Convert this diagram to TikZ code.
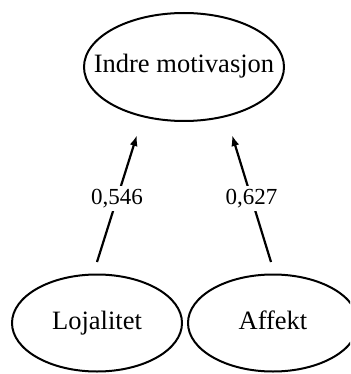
\documentclass[tikz,border=0pt]{standalone}
\usepackage{fontspec}
\setmainfont{Liberation Serif}
\usetikzlibrary{arrows.meta,shapes.geometric}
\begin{document}
\begin{tikzpicture}[x=1pt,y=-1pt,
  factor/.style={draw,line width=2pt,ellipse,minimum width=#1,inner sep=0pt},
  caption/.style={text height=18pt,text depth=6pt,inner sep=0pt,font=\fontsize{26.5}{28}\selectfont},
  link/.style={line width=2.2pt,-{Latex[length=11pt,width=8pt]}},
  coef/.style={fill=white,inner sep=3pt,font=\fontsize{23}{25}\selectfont}]
\useasboundingbox (0,0) rectangle (350,374);
\clip (0,0) rectangle (350,374);
\node[factor=200pt,minimum height=108pt,label={[caption]center:Indre motivasjon}] (indre) at (184,67) {};
\node[factor=170pt,minimum height=97pt,label={[caption]center:Lojalitet}] (loj) at (97,323) {};
\node[factor=170pt,minimum height=97pt,label={[caption]center:Affekt}] (aff) at (273,323) {};
\coordinate (l0) at (97,262);
\coordinate (l1) at (137,135);
\coordinate (r0) at (271,262);
\coordinate (r1) at (232,135);
\draw[link] (l0) -- node[coef] {0,546} (l1);
\draw[link] (r0) -- node[coef] {0,627} (r1);
\end{tikzpicture}
\end{document}
